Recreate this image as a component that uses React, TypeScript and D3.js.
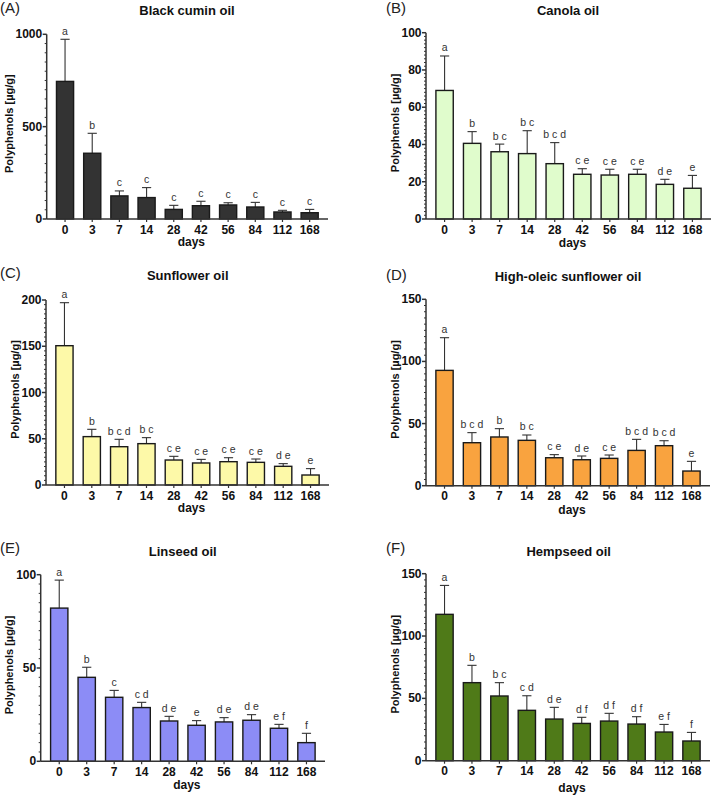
import * as d3 from "d3";

const days = ["0", "3", "7", "14", "28", "42", "56", "84", "112", "168"];

const blackCuminMean = [745, 356, 125, 116, 52, 72, 76, 65, 38, 34];
const blackCuminErr = [228, 108, 27, 54, 22, 24, 12, 25, 9, 18];
const blackCuminLetters = ["a", "b", "c", "c", "c", "c", "c", "c", "c", "c"];

const canolaMean = [69.0, 40.6, 36.1, 35.1, 29.7, 24.0, 23.6, 24.0, 18.6, 16.5];
const canolaErr = [18.5, 6.3, 4.1, 12.3, 11.3, 3.0, 3.1, 2.7, 2.7, 6.9];
const canolaLetters = ["a", "b", "b c", "b c", "b c d", "c e", "c e", "c e", "d e", "e"];

const sunflowerMean = [150.6, 52.3, 41.4, 44.7, 27.0, 23.8, 25.2, 24.5, 20.2, 10.8];
const sunflowerErr = [46.5, 7.9, 8.0, 6.5, 4.0, 3.9, 4.3, 3.6, 2.9, 6.9];
const sunflowerLetters = ["a", "b", "b c d", "b c", "c e", "c e", "c e", "c e", "d e", "e"];

const highOleicMean = [92.8, 34.6, 39.2, 36.5, 22.5, 20.9, 22.0, 28.4, 32.2, 11.8];
const highOleicErr = [26.3, 8.1, 6.7, 4.3, 2.5, 3.0, 2.7, 8.9, 4.0, 7.8];
const highOleicLetters = ["a", "b c d", "b", "b c", "c e", "d e", "c e", "b c d", "b c d", "e"];

const linseedMean = [82.1, 45.0, 34.3, 28.8, 21.6, 19.3, 21.1, 22.0, 17.7, 10.0];
const linseedErr = [15.0, 5.4, 3.7, 2.8, 2.5, 2.5, 2.3, 3.0, 2.1, 5.0];
const linseedLetters = ["a", "b", "c", "c d", "d e", "e", "d e", "d e", "e f", "f"];

const hempseedMean = [117.4, 62.6, 51.9, 40.4, 33.4, 29.9, 31.8, 29.4, 23.0, 15.8];
const hempseedErr = [23.2, 13.9, 10.7, 11.7, 9.4, 4.9, 6.2, 5.9, 6.1, 6.9];
const hempseedLetters = ["a", "b", "b c", "c d", "d e", "d f", "d f", "d f", "e f", "f"];

const panels = [
  {
    tag: "(A)", title: "Black cumin oil", mean: blackCuminMean, err: blackCuminErr, letters: blackCuminLetters,
    fill: "#333333", yMax: 1000, major: 500, minor: 50,
    x0: 46.7, x1: 328, yTop: 34.3, yBot: 219, tagX: 0, tagY: 13, titleX: 187, titleY: 15,
    labelX: 9, daysDy: 27,
  },
  {
    tag: "(B)", title: "Canola oil", mean: canolaMean, err: canolaErr, letters: canolaLetters,
    fill: "#e0fccc", yMax: 100, major: 20, minor: 2,
    x0: 426, x1: 711, yTop: 32.7, yBot: 219, tagX: 386, tagY: 13, titleX: 568, titleY: 15,
    labelX: 395.3, daysDy: 27.5,
  },
  {
    tag: "(C)", title: "Sunflower oil", mean: sunflowerMean, err: sunflowerErr, letters: sunflowerLetters,
    fill: "#fdf9a8", yMax: 200, major: 50, minor: 5,
    x0: 46, x1: 329, yTop: 300, yBot: 485, tagX: 0, tagY: 278, titleX: 187.7, titleY: 280,
    labelX: 15, daysDy: 27,
  },
  {
    tag: "(D)", title: "High-oleic sunflower oil", mean: highOleicMean, err: highOleicErr, letters: highOleicLetters,
    fill: "#f9a33f", yMax: 150, major: 50, minor: 5,
    x0: 426, x1: 710, yTop: 299.3, yBot: 485.7, tagX: 386, tagY: 280, titleX: 568, titleY: 281,
    labelX: 395.3, daysDy: 28,
  },
  {
    tag: "(E)", title: "Linseed oil", mean: linseedMean, err: linseedErr, letters: linseedLetters,
    fill: "#8c8cf6", yMax: 100, major: 50, minor: 5,
    x0: 40.7, x1: 325, yTop: 574.7, yBot: 761.3, tagX: 0, tagY: 553, titleX: 182.7, titleY: 556,
    labelX: 9, daysDy: 28,
  },
  {
    tag: "(F)", title: "Hempseed oil", mean: hempseedMean, err: hempseedErr, letters: hempseedLetters,
    fill: "#4f7a18", yMax: 150, major: 50, minor: 5,
    x0: 426, x1: 710, yTop: 573.7, yBot: 760.7, tagX: 386, tagY: 553, titleX: 568.7, titleY: 556,
    labelX: 395.3, daysDy: 31,
  },
];

const font = "'Liberation Sans', Arial, sans-serif";
const axisColor = "#333";

function Panel({ p }) {
  const x = d3.scaleBand().domain(days).range([p.x0, p.x1]).paddingInner(0.37).paddingOuter(0.36);
  const y = d3.scaleLinear().domain([0, p.yMax]).range([p.yBot, p.yTop]);
  const majors = d3.range(0, p.yMax + p.major / 2, p.major);
  const minors = d3.range(0, p.yMax + p.minor / 2, p.minor).filter((v) => Math.abs(v / p.major - Math.round(v / p.major)) > 1e-6);
  const bw = x.bandwidth();
  const cap = 4.6;
  return (
    <g fontFamily={font}>
      <text x={p.tagX} y={p.tagY} fontSize={15} fill="#222">{p.tag}</text>
      <text x={p.titleX} y={p.titleY} fontSize={13} fontWeight="bold" textAnchor="middle" fill="#111">{p.title}</text>
      <text
        transform={`translate(${p.labelX},${(p.yTop + p.yBot) / 2 - 3}) rotate(-90)`}
        fontSize={11} fontWeight="bold" textAnchor="middle" dominantBaseline="central" fill="#111"
      >Polyphenols [µg/g]</text>
      {/* bars */}
      {days.map((d, i) => {
        const cx = x(d) + bw / 2;
        const top = y(p.mean[i]);
        const et = y(p.mean[i] + p.err[i]);
        return (
          <g key={d}>
            <line x1={cx} x2={cx} y1={top} y2={et} stroke={axisColor} strokeWidth={1.1} />
            <line x1={cx - cap} x2={cx + cap} y1={et} y2={et} stroke={axisColor} strokeWidth={1.1} />
            <rect x={x(d)} y={top} width={bw} height={p.yBot - top} fill={p.fill} stroke="#1a1a1a" strokeWidth={1.4} />
            <text x={cx} y={et - 4.5} fontSize={10.5} textAnchor="middle" fill="#333" style={{ whiteSpace: "pre" }}>{p.letters[i]}</text>
            <line x1={cx} x2={cx} y1={p.yBot} y2={p.yBot + 3} stroke={axisColor} strokeWidth={1.2} />
            <text x={cx} y={p.yBot + 14.5} fontSize={12} fontWeight="bold" textAnchor="middle" fill="#111">{d}</text>
          </g>
        );
      })}
      {/* axes */}
      <line x1={p.x0} x2={p.x0} y1={p.yTop} y2={p.yBot} stroke={axisColor} strokeWidth={1.5} />
      <line x1={p.x0} x2={p.x1} y1={p.yBot} y2={p.yBot} stroke={axisColor} strokeWidth={1.5} />
      {minors.map((v) => (
        <line key={"m" + v} x1={p.x0 - 2} x2={p.x0} y1={y(v)} y2={y(v)} stroke={axisColor} strokeWidth={1} />
      ))}
      {majors.map((v) => (
        <g key={"M" + v}>
          <line x1={p.x0 - 4} x2={p.x0} y1={y(v)} y2={y(v)} stroke={axisColor} strokeWidth={1.5} />
          <text x={p.x0 - 4.5} y={y(v)} fontSize={12} fontWeight="bold" textAnchor="end" dominantBaseline="central" fill="#111">{v}</text>
        </g>
      ))}
      <text x={(p.x0 + p.x1) / 2 + 4} y={p.yBot + p.daysDy} fontSize={12} fontWeight="bold" textAnchor="middle" fill="#111">days</text>
    </g>
  );
}

export default function App() {
  return (
    <svg width={712} height={795} style={{ position: "absolute", left: 0, top: 0, background: "#fff" }}>
      <rect width={712} height={795} fill="#fff" />
      {panels.map((p) => (
        <Panel key={p.tag} p={p} />
      ))}
    </svg>
  );
}
